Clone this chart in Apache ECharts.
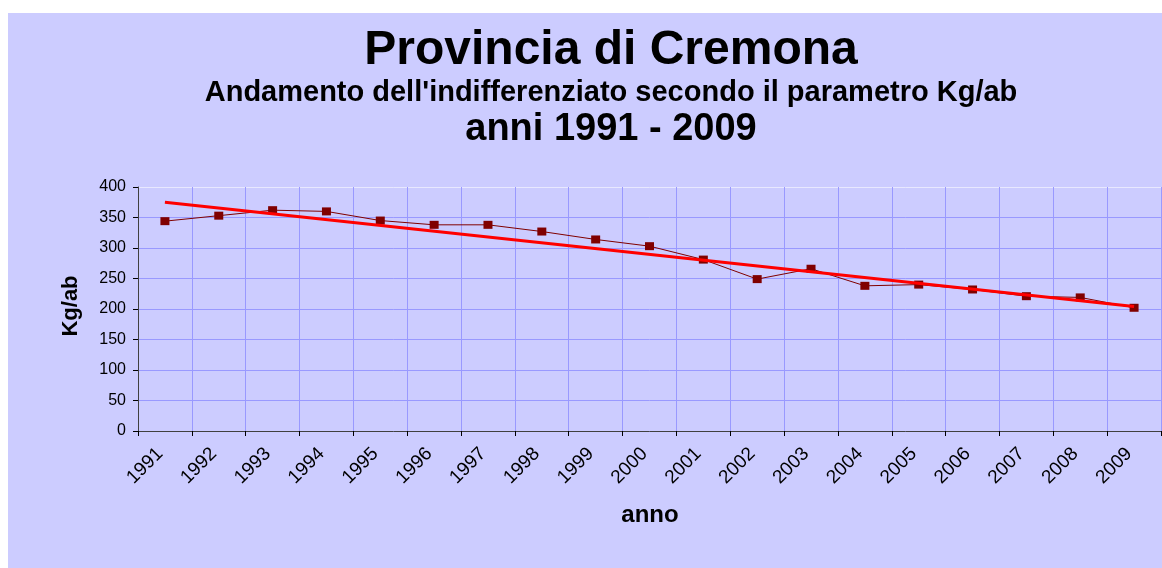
<!DOCTYPE html>
<html>
<head>
<meta charset="utf-8">
<script src="https://cdn.jsdelivr.net/npm/echarts@6/dist/echarts.min.js"></script>
<style>
  html, body { margin: 0; padding: 0; background: #ffffff; width: 1162px; height: 568px; overflow: hidden; }
  #chart { position: absolute; left: 8px; top: 13px; width: 1154px; height: 555px; }
</style>
</head>
<body>
<div id="chart"></div>
<script>
// ---- data ----
const years = ['1991','1992','1993','1994','1995','1996','1997','1998','1999','2000',
               '2001','2002','2003','2004','2005','2006','2007','2008','2009'];
const kgPerInhabitant = [344, 353, 362, 360, 345, 338, 338, 327, 314, 303,
                         281, 249, 266, 238, 240, 232, 221, 219, 202];
const trendYears = ['1991', '2009'];
const trendValues = [375, 204];
const yMin = 0, yMax = 400, yStep = 50;

const titleMain = 'Provincia di Cremona';
const titleSub = "Andamento dell'indifferenziato secondo il parametro Kg/ab";
const titleYears = 'anni 1991 - 2009';
const yName = 'Kg/ab';
const xName = 'anno';

// ---- chart ----
const FONT = "'Liberation Sans', Arial, sans-serif";
const chart = echarts.init(document.getElementById('chart'));
const gridColors = [];
for (let v = yMin; v <= yMax; v += yStep) gridColors.push(v === yMax ? '#e8e8ff' : '#9999ff');

chart.setOption({
  animation: false,
  backgroundColor: '#ccccff',
  graphic: [
    { type: 'text', x: 603, y: 38, style: { text: titleMain, textAlign: 'center', textVerticalAlign: 'middle',
      font: 'bold 48px ' + FONT, fill: '#000' } },
    { type: 'text', x: 603, y: 80, style: { text: titleSub, textAlign: 'center', textVerticalAlign: 'middle',
      font: 'bold 29px ' + FONT, fill: '#000' } },
    { type: 'text', x: 603, y: 117, style: { text: titleYears, textAlign: 'center', textVerticalAlign: 'middle',
      font: 'bold 38px ' + FONT, fill: '#000' } },
    { type: 'text', x: 63, y: 293, rotation: Math.PI / 2, style: { text: yName, textAlign: 'center', textVerticalAlign: 'middle',
      font: 'bold 22px ' + FONT, fill: '#000' } },
    { type: 'text', x: 642, y: 502, style: { text: xName, textAlign: 'center', textVerticalAlign: 'middle',
      font: 'bold 24px ' + FONT, fill: '#000' } }
  ],
  grid: { left: 130, top: 174, right: 1, bottom: 137, containLabel: false },
  xAxis: {
    type: 'category',
    data: years,
    boundaryGap: true,
    axisLine: { lineStyle: { color: '#404040', width: 1 } },
    axisTick: { show: true, length: 5, lineStyle: { color: '#000' } },
    axisLabel: { rotate: 45, margin: 15, padding: [0, 7, 0, 0], color: '#000', fontSize: 19, fontFamily: FONT, interval: 0 },
    splitLine: { show: true, interval: 0, lineStyle: { color: '#9999ff', width: 1 } }
  },
  yAxis: {
    type: 'value',
    min: yMin, max: yMax, interval: yStep,
    axisLine: { show: true, lineStyle: { color: '#404040', width: 1 } },
    axisTick: { show: true, length: 5, lineStyle: { color: '#000' } },
    axisLabel: { margin: 12, color: '#000', fontSize: 16, fontFamily: FONT },
    splitLine: { show: true, lineStyle: { color: gridColors, width: 1 } }
  },
  series: [
    {
      type: 'line',
      data: kgPerInhabitant,
      symbol: 'rect',
      symbolSize: [9, 8],
      lineStyle: { color: '#800000', width: 1 },
      itemStyle: { color: '#800000' },
      z: 3
    },
    {
      type: 'line',
      data: trendYears.map((y, i) => [y, trendValues[i]]),
      symbol: 'none',
      lineStyle: { color: '#ff0000', width: 3 },
      z: 4
    }
  ]
});
</script>
</body>
</html>
